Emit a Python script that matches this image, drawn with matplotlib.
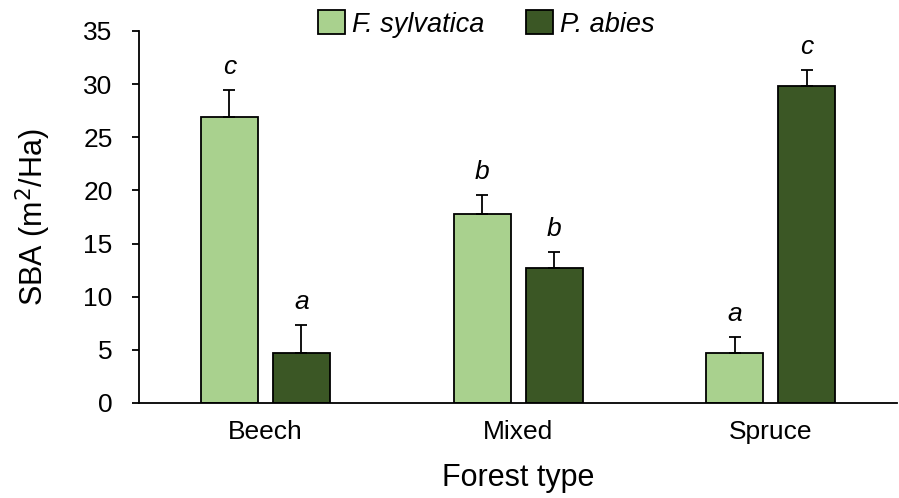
import matplotlib
matplotlib.use("Agg")
import matplotlib.pyplot as plt
import numpy as np

plt.rcParams["font.family"] = ["Liberation Sans", "DejaVu Sans"]

forest_types = ["Beech", "Mixed", "Spruce"]
species = ["F. sylvatica", "P. abies"]
fagus_mean = [26.9, 17.8, 4.7]
fagus_err = [2.5, 1.8, 1.5]
picea_mean = [4.7, 12.7, 29.8]
picea_err = [2.6, 1.5, 1.5]
fagus_letters = ["c", "b", "a"]
picea_letters = ["a", "b", "c"]

light_green = "#a9d18e"
dark_green = "#3b5725"

fig = plt.figure(figsize=(8.99, 4.98), dpi=100)
ax = fig.add_axes([0.1546, 0.1908, 0.8434, 0.747])

x = np.arange(len(forest_types))
width = 0.225
offset = 0.1425

series = [
    (fagus_mean, fagus_err, fagus_letters, light_green, -offset),
    (picea_mean, picea_err, picea_letters, dark_green, offset),
]
for (means, errs, letters, color, dx), name in zip(series, species):
    ax.bar(x + dx, means, width, color=color, edgecolor="black",
           linewidth=1.3, label=name, zorder=2)
    ax.errorbar(x + dx, means, yerr=[np.zeros(len(errs)), errs], fmt="none",
                ecolor="black", elinewidth=1.3, capsize=4.5, capthick=1.3,
                zorder=3)
    for xi, m, e, let in zip(x + dx, means, errs, letters):
        ax.annotate(let, (xi, m + e), xytext=(0, 8), textcoords="offset points",
                    ha="center", va="bottom", fontsize=19, style="italic")

ax.set_xlim(-0.5, 2.5)
ax.set_ylim(0, 35)
ax.set_yticks(range(0, 36, 5))
ax.set_xticks(x)
ax.set_xticklabels(forest_types)
ax.tick_params(axis="y", labelsize=19, length=5, width=1.3, pad=14)
ax.tick_params(axis="x", labelsize=19, length=0, pad=12)
for side in ["top", "right"]:
    ax.spines[side].set_visible(False)
for side in ["left", "bottom"]:
    ax.spines[side].set_linewidth(1.3)

ax.set_xlabel("Forest type", fontsize=22, labelpad=14)
ax.set_ylabel("SBA (m$^2$/Ha)", fontsize=22, labelpad=22)

leg = fig.legend(loc="center", bbox_to_anchor=(0.541, 0.952), ncol=2,
                 frameon=False, handlelength=1.0, handleheight=1.0,
                 handletextpad=0.25, columnspacing=1.55,
                 prop={"size": 19.5, "style": "italic"})

fig.savefig("out.png", dpi=100)
